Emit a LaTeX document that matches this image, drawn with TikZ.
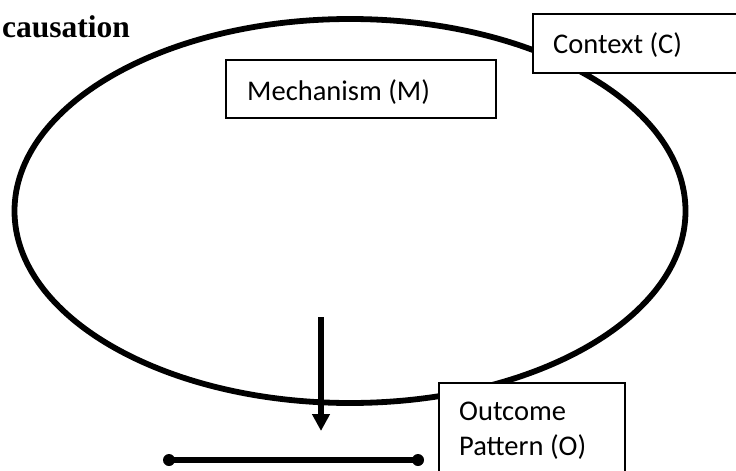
\documentclass[tikz,border=0pt]{standalone}
\usepackage{fontspec}
\setmainfont{Liberation Serif}
\newfontfamily\boxfont{Carlito}
\usetikzlibrary{arrows.meta}
\tikzset{
  boxshape/.style={draw=black, line width=1.5pt, fill=white, anchor=north west, inner sep=0pt},
  boxtext/.style={anchor=base west, inner sep=0pt, font=\boxfont\fontsize{28.5}{34}\selectfont},
  dotend/.style={circle, fill=black, minimum size=12pt, inner sep=0pt},
}
\begin{document}
\begin{tikzpicture}[x=1pt,y=-1pt]
\useasboundingbox (0,0) rectangle (736,471);
\fill[white] (0,0) rectangle (736,471);
% ellipse
\draw[line width=5.8pt] (350,211) ellipse [x radius=335.5pt, y radius=192pt];
% title
\node[anchor=base west, inner sep=0pt, font=\bfseries\fontsize{31.5}{38}\selectfont] (title) at (2,37) {causation};
% Context box
\node[boxshape, minimum width=210pt, minimum height=59pt] (cbox) at (532,13) {};
\node[boxtext] (ctext) at (553,53) {Context (C)};
% Mechanism box
\node[boxshape, minimum width=270pt, minimum height=58pt] (mbox) at (225,59) {};
\node[boxtext] (mtext) at (247,100) {Mechanism (M)};
% arrow
\coordinate (astart) at (321,317);
\coordinate (aend) at (321,431);
\draw[line width=5.6pt, -{Triangle[width=17pt,length=17pt]}] (astart) -- (aend);
% bottom line
\node[dotend] (d1) at (169,460) {};
\node[dotend] (d2) at (418,460) {};
\draw[line width=6pt] (d1.center) -- (d2.center);
% Outcome box
\node[boxshape, minimum width=186pt, minimum height=100pt] (obox) at (438,382) {};
\node[boxtext] (otext1) at (459,420) {Outcome};
\node[boxtext] (otext2) at (459,455) {Pattern (O)};
\end{tikzpicture}
\end{document}
